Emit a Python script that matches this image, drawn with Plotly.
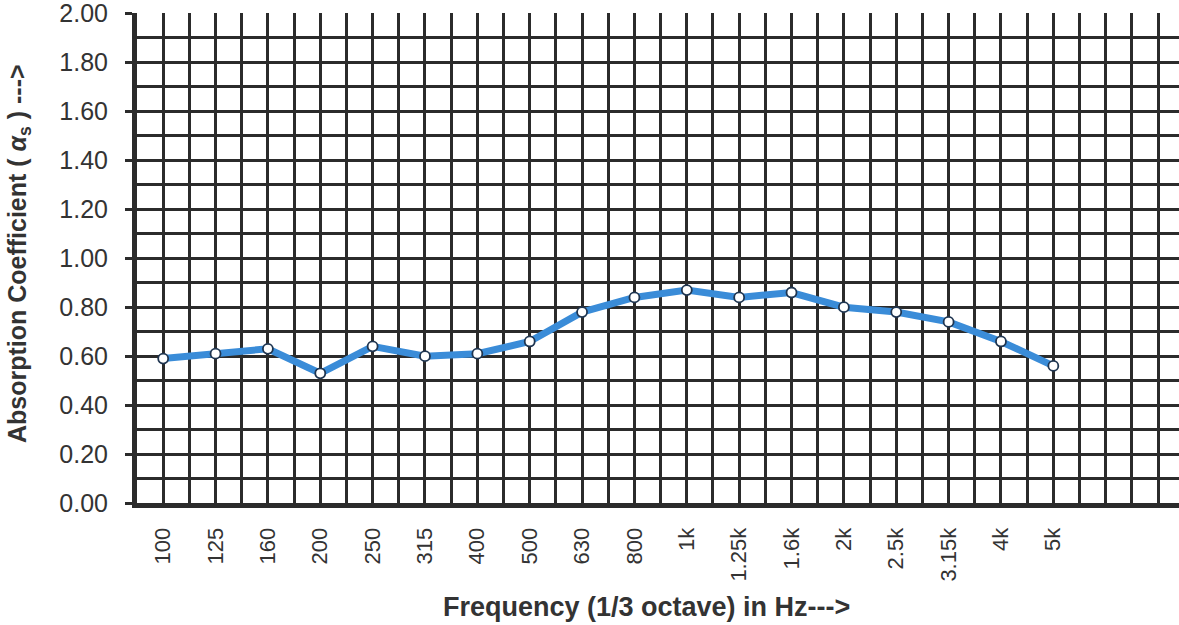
import plotly.graph_objects as go

categories = ["100", "125", "160", "200", "250", "315", "400", "500", "630", "800",
              "1k", "1.25k", "1.6k", "2k", "2.5k", "3.15k", "4k", "5k"]
absorption = [0.59, 0.61, 0.63, 0.53, 0.64, 0.60, 0.61, 0.66, 0.78, 0.84,
              0.87, 0.84, 0.86, 0.80, 0.78, 0.74, 0.66, 0.56]
positions = list(range(len(categories)))

x_title = "<b>Frequency (1/3 octave) in Hz---></b>"
y_title = "<b>Absorption Coefficient ( <i>α</i><sub>s</sub> ) ---></b>"

grid_col = "#2b2b2b"
text_col = "#333333"
font_family = "Liberation Sans, Arial, sans-serif"

fig = go.Figure()
fig.add_trace(go.Scatter(
    x=positions, y=absorption, mode="lines+markers",
    line=dict(color="#3a8cd8", width=7),
    marker=dict(size=10, color="white", line=dict(color="#1f3550", width=1.8)),
    showlegend=False, cliponaxis=False,
))

fig.update_layout(
    width=1179, height=625,
    margin=dict(l=137, r=0, t=13, b=122),
    paper_bgcolor="white", plot_bgcolor="white",
    font=dict(family=font_family, color=text_col),
)

fig.update_xaxes(
    range=[-0.5, 19.4],
    tickmode="array", tickvals=positions, ticktext=categories,
    tickangle=-90, tickfont=dict(size=22, color=text_col),
    ticks="", ticklabelstandoff=11,
    showgrid=True, gridcolor=grid_col, gridwidth=3,
    minor=dict(tickmode="linear", tick0=-0.5, dtick=0.5, showgrid=True,
               gridcolor=grid_col, gridwidth=3, ticks=""),
    showline=True, linecolor=grid_col, linewidth=5,
    zeroline=False, automargin=False,
)

fig.update_yaxes(
    range=[0, 2.002], tickmode="linear", tick0=0, dtick=0.2, tickformat=".2f",
    tickfont=dict(size=25, color=text_col),
    ticks="outside", ticklen=7, tickwidth=3, tickcolor=grid_col,
    ticklabelstandoff=12, ticklabeloverflow="allow",
    showgrid=True, gridcolor=grid_col, gridwidth=3,
    minor=dict(tickmode="linear", tick0=0, dtick=0.1, showgrid=True,
               gridcolor=grid_col, gridwidth=3, ticks=""),
    showline=True, linecolor=grid_col, linewidth=5,
    zeroline=False, automargin=False,
)

# axis titles as annotations for precise placement
fig.add_annotation(text=x_title, xref="paper", yref="paper", x=0.4894, y=0,
                   xanchor="center", yanchor="middle", yshift=-104,
                   showarrow=False, font=dict(size=27, color=text_col))
fig.add_annotation(text=y_title, xref="paper", yref="paper", x=0, y=0.508,
                   xanchor="center", yanchor="middle", xshift=-118,
                   textangle=-90, showarrow=False,
                   font=dict(size=25, color=text_col))

# remove the browser's default 8px body margin so the figure sits at the page origin
fig.write_html("out.html", config={"displayModeBar": False},
               post_script="document.body.style.margin='0';")
